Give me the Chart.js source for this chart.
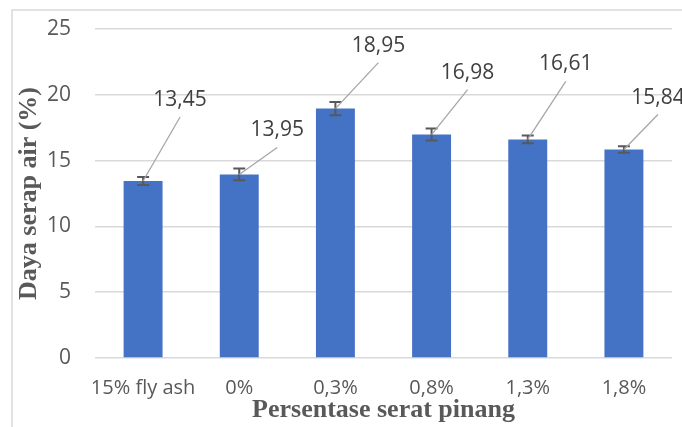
<!DOCTYPE html>
<html>
<head>
<meta charset="utf-8">
<script src="https://cdn.jsdelivr.net/npm/chart.js@4.4.1/dist/chart.umd.min.js"></script>
<style>
  body { margin: 0; background: #fff; }
  #wrap { width: 682px; height: 427px; }
</style>
</head>
<body>
<div id="wrap"><canvas id="myChart" width="682" height="427"></canvas></div>
<script>
let categories = ['15% fly ash', '0%', '0,3%', '0,8%', '1,3%', '1,8%'];
let absorption = [13.45, 13.95, 18.95, 16.98, 16.61, 15.84];
let errors = [0.3, 0.45, 0.5, 0.45, 0.3, 0.25];
let yTicks = [0, 5, 10, 15, 20, 25];

// where each data label sits, relative to the top of its bar (px)
let labelShift = [[37, -81], [38, -44], [43, -63], [36, -62], [38, -75], [34, -52]];

function fmt(v){
  return v.toFixed(2).replace('.', ',');
}

// light frame on the left and top, like the pasted excel chart
const framePlugin = {
  id: 'frame',
  beforeDraw(chart){
    const ctx = chart.ctx;
    ctx.save();
    ctx.strokeStyle = '#d9d9d9';
    ctx.lineWidth = 1.5;
    ctx.beginPath();
    ctx.moveTo(12, chart.height);
    ctx.lineTo(12, 10);
    ctx.lineTo(chart.width, 10);
    ctx.stroke();
    ctx.restore();
  }
};

const errorBarPlugin = {
  id: 'errorBars',
  afterDatasetsDraw(chart){
    const ctx = chart.ctx;
    const y = chart.scales.y;
    const meta = chart.getDatasetMeta(0);
    ctx.save();
    ctx.strokeStyle = '#595959';
    ctx.lineWidth = 2;
    meta.data.forEach((bar, i) => {
      const top = y.getPixelForValue(absorption[i] + errors[i]);
      const bot = y.getPixelForValue(absorption[i] - errors[i]);
      ctx.beginPath();
      ctx.moveTo(bar.x, top);
      ctx.lineTo(bar.x, bot);
      ctx.moveTo(bar.x - 6, top);
      ctx.lineTo(bar.x + 6, top);
      ctx.moveTo(bar.x - 6, bot);
      ctx.lineTo(bar.x + 6, bot);
      ctx.stroke();
    });
    ctx.restore();
  }
};

const labelPlugin = {
  id: 'leaderLabels',
  afterDatasetsDraw(chart){
    const ctx = chart.ctx;
    const y = chart.scales.y;
    const meta = chart.getDatasetMeta(0);
    ctx.save();
    meta.data.forEach((bar, i) => {
      const py = y.getPixelForValue(absorption[i]);
      const lx = bar.x + labelShift[i][0];
      const ly = py + labelShift[i][1];
      ctx.strokeStyle = '#a6a6a6';
      ctx.lineWidth = 1.3;
      ctx.beginPath();
      ctx.moveTo(lx, ly + 17);
      ctx.lineTo(bar.x, py);
      ctx.stroke();
      ctx.fillStyle = '#404040';
      ctx.font = '21px "Open Sans"';
      ctx.textAlign = 'center';
      ctx.textBaseline = 'middle';
      ctx.fillText(fmt(absorption[i]), lx, ly);
    });
    ctx.restore();
  }
};

const ctx = document.getElementById('myChart').getContext('2d');
const myChart = new Chart(ctx, {
  type: 'bar',
  data: {
    labels: categories,
    datasets: [{
      label: 'Daya serap air',
      data: absorption,
      backgroundColor: '#4472c4',
      borderWidth: 0,
      categoryPercentage: 1,
      barPercentage: 0.405
    }]
  },
  options: {
    responsive: false,
    animation: false,
    layout: { padding: { left: 12, top: 29, right: 10, bottom: 0 } },
    plugins: {
      legend: { display: false },
      tooltip: { enabled: false }
    },
    scales: {
      x: {
        grid: { display: false, drawTicks: false },
        border: { display: false },
        ticks: { color: '#595959', font: { family: 'Open Sans', size: 20 }, padding: 18, maxRotation: 0, autoSkip: false },
        title: {
          display: true,
          text: 'Persentase serat pinang',
          color: '#595959',
          font: { family: 'Liberation Serif', size: 26, weight: 'bold' },
          padding: { top: 0, bottom: 1 }
        },
        afterFit(scale){ scale.height = 69; }
      },
      y: {
        min: 0,
        max: 25,
        afterBuildTicks(scale){ scale.ticks = yTicks.map(v => ({ value: v })); },
        grid: { color: '#d9d9d9', lineWidth: 1.5, drawTicks: false },
        border: { display: false },
        ticks: { color: '#595959', font: { family: 'Open Sans', size: 21 }, padding: 24 },
        title: {
          display: true,
          text: 'Daya serap air (%)',
          color: '#595959',
          font: { family: 'Liberation Serif', size: 26, weight: 'bold' },
          padding: { top: 2, bottom: 0 }
        },
        afterFit(scale){
          scale.width = 83;
          // tick padding would otherwise push the plot top down
          scale.paddingTop = 0;
          scale.paddingBottom = 0;
        }
      }
    }
  },
  plugins: [framePlugin, errorBarPlugin, labelPlugin]
});
</script>
</body>
</html>
